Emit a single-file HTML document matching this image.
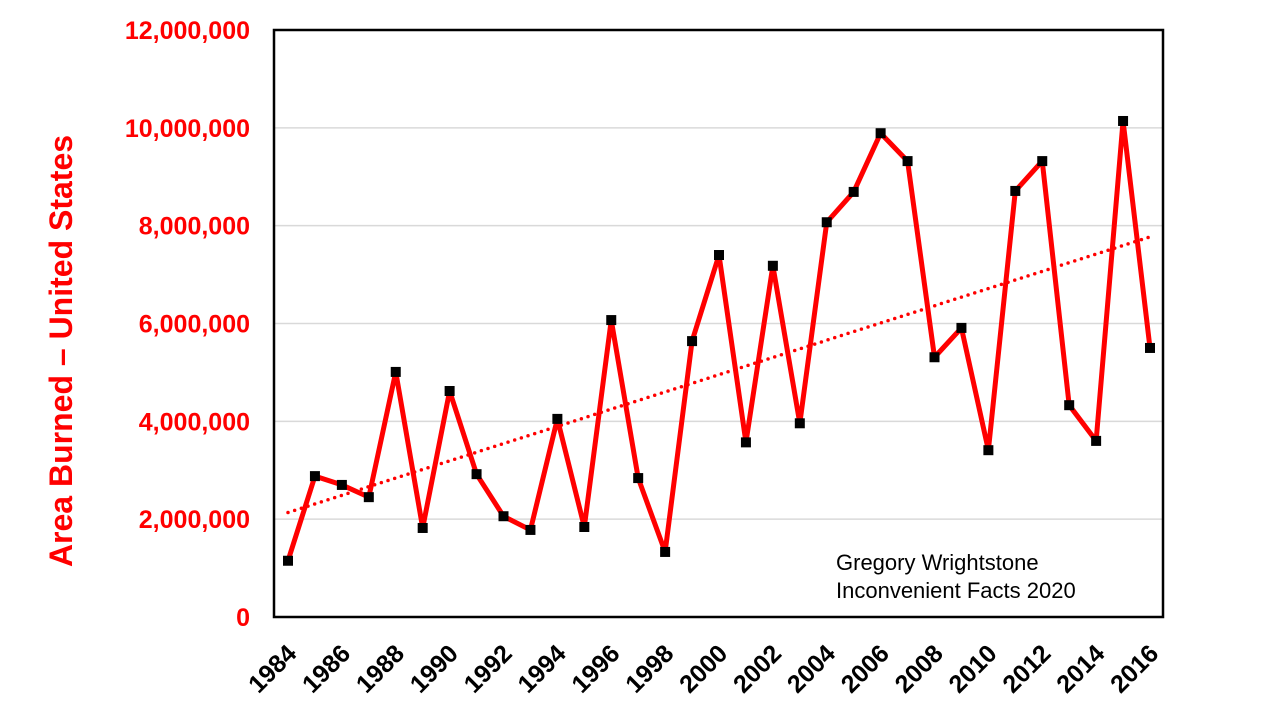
<!DOCTYPE html>
<html><head><meta charset="utf-8"><style>
body{margin:0;background:#fff;width:1280px;height:720px;overflow:hidden}
svg{display:block;font-family:"Liberation Sans",Arial,sans-serif}
</style></head><body>
<svg id="chart" width="1280" height="720"></svg>
<script>
const years=[1984,1985,1986,1987,1988,1989,1990,1991,1992,1993,1994,1995,1996,1997,1998,1999,2000,2001,2002,2003,2004,2005,2006,2007,2008,2009,2010,2011,2012,2013,2014,2015,2016];
const acres=[1.15,2.88,2.70,2.45,5.01,1.82,4.62,2.92,2.06,1.78,4.05,1.84,6.07,2.84,1.33,5.64,7.40,3.57,7.18,3.96,8.07,8.69,9.89,9.32,5.31,5.91,3.41,8.71,9.32,4.33,3.60,10.14,5.50].map(v=>v*1e6);
const yTicks=[0,2e6,4e6,6e6,8e6,10e6,12e6];
const xTickYears=[1984,1986,1988,1990,1992,1994,1996,1998,2000,2002,2004,2006,2008,2010,2012,2014,2016];
const L=274,R=1163,T=30,B=617;
const X0=288,X1=1150;
const xs=y=>X0+(y-1984)*(X1-X0)/32;
const ys=v=>B-v*(B-T)/12e6;
const svg=document.getElementById('chart');
const NS='http://www.w3.org/2000/svg';
function mk(t,a,p){const e=document.createElementNS(NS,t);for(const k in a)e.setAttribute(k,a[k]);(p||svg).appendChild(e);return e;}
const fmt=v=>v.toLocaleString('en-US');
yTicks.forEach(v=>{
  if(v>0&&v<12e6){const g=mk('line',{x1:L,x2:R,y1:ys(v),y2:ys(v),stroke:'#d9d9d9','stroke-width':1.5});
  
  }
  const t=mk('text',{x:250,y:ys(v)+9,'text-anchor':'end','font-size':25,'font-weight':'bold',fill:'#ff0000'});
  t.textContent=fmt(v);
  
  
});
xTickYears.forEach(yr=>{
  const x=xs(yr);
  const t=mk('text',{x:x+10,y:655,'text-anchor':'end','font-size':25,'font-weight':'bold',fill:'#000',transform:`rotate(-45 ${x+10} 655)`});
  t.textContent=yr;
  
  
});
const n=years.length,mx=years.reduce((a,b)=>a+b)/n,my=acres.reduce((a,b)=>a+b)/n;
let sxy=0,sxx=0;years.forEach((y,i)=>{sxy+=(y-mx)*(acres[i]-my);sxx+=(y-mx)**2;});
const sl=sxy/sxx,ic=my-sl*mx;
const tr=mk('line',{x1:xs(1984),y1:ys(ic+sl*1984),x2:xs(2016),y2:ys(ic+sl*2016),stroke:'#ff0000','stroke-width':3.5,'stroke-dasharray':'0 7','stroke-linecap':'round'});


const pl=mk('polyline',{points:years.map((y,i)=>xs(y)+','+ys(acres[i])).join(' '),fill:'none',stroke:'#ff0000','stroke-width':5,'stroke-linejoin':'round'});


years.forEach((y,i)=>{
  const m=mk('rect',{x:xs(y)-5,y:ys(acres[i])-5,width:10,height:10,fill:'#000'});
  
  
});
const fr=mk('rect',{x:L,y:T,width:R-L,height:B-T,fill:'none',stroke:'#000','stroke-width':2.5});


const yt=mk('text',{x:72,y:351,'text-anchor':'middle','font-size':32,'font-weight':'bold',fill:'#ff0000',transform:'rotate(-90 72 351)'});
yt.textContent='Area Burned – United States';


['Gregory Wrightstone','Inconvenient Facts 2020'].forEach((s,i)=>{
  const c=mk('text',{x:836,y:570+i*28,'font-size':22,fill:'#000'});
  c.textContent=s;
  
  
});
</script>
</body></html>
